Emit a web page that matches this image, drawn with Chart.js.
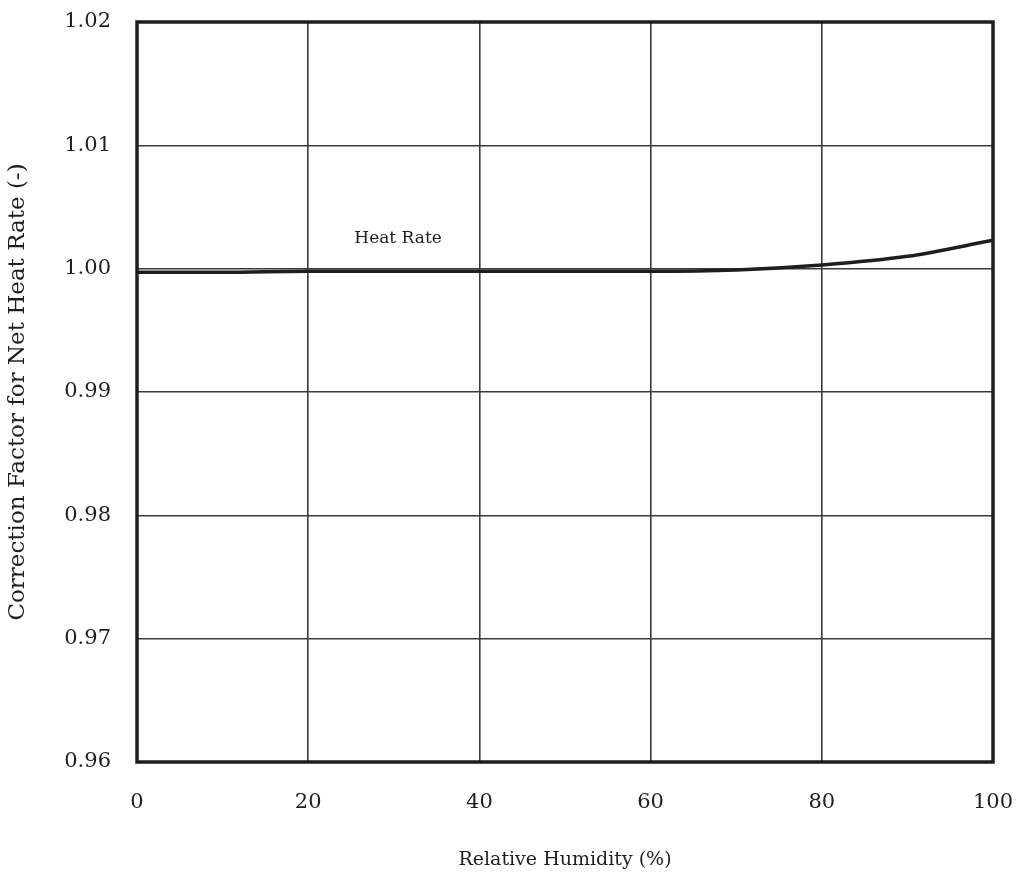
<!DOCTYPE html>
<html>
<head>
<meta charset="utf-8">
<script src="https://cdn.jsdelivr.net/npm/chart.js@4.4.0/dist/chart.umd.min.js"></script>
<style>
  html, body { margin: 0; padding: 0; background: #fff; }
  #wrap { width: 1018px; height: 875px; position: relative; }
</style>
</head>
<body>
<div id="wrap"><canvas id="chart"></canvas></div>
<script>
const humidity = [0, 10, 20, 30, 40, 50, 60, 70, 80, 90, 100];
const heatRate = [0.9997, 0.9997, 0.9998, 0.9998, 0.9998, 0.9998, 0.9998, 0.9999, 1.0003, 1.0010, 1.0023];
const xTicks = [0, 20, 40, 60, 80, 100];
const yTicks = [0.96, 0.97, 0.98, 0.99, 1.00, 1.01, 1.02];
const seriesLabel = 'Heat Rate';
const labelAt = { x: 30.5, y: 1.0024 };

const serif = "'DejaVu Serif', 'Liberation Serif', serif";
const ink = '#1e1e1e';

// text label sitting above the curve, placed through the scales
const curveLabel = {
  id: 'curveLabel',
  afterDatasetsDraw(chart) {
    const { ctx, scales } = chart;
    ctx.save();
    ctx.font = `17px ${serif}`;
    ctx.fillStyle = ink;
    ctx.textAlign = 'center';
    ctx.textBaseline = 'middle';
    ctx.fillText(seriesLabel, scales.x.getPixelForValue(labelAt.x), scales.y.getPixelForValue(labelAt.y));
    ctx.restore();
  },
};

// heavy frame round the plot area
const frame = {
  id: 'frame',
  afterDraw(chart) {
    const { ctx, chartArea: a } = chart;
    ctx.save();
    ctx.strokeStyle = ink;
    ctx.lineWidth = 3.5;
    ctx.strokeRect(a.left, a.top, a.right - a.left, a.bottom - a.top);
    ctx.restore();
  },
};

new Chart(document.getElementById('chart'), {
  type: 'line',
  data: {
    datasets: [{
      label: seriesLabel,
      data: humidity.map((h, i) => ({ x: h, y: heatRate[i] })),
      borderColor: ink,
      borderWidth: 3.5,
      pointRadius: 0,
      tension: 0.4,
      cubicInterpolationMode: 'monotone',
      fill: false,
    }],
  },
  options: {
    responsive: true,
    maintainAspectRatio: false,
    animation: false,
    layout: { padding: { top: 22, right: 25, left: 0, bottom: 0 } },
    plugins: { legend: { display: false }, tooltip: { enabled: false } },
    scales: {
      x: {
        type: 'linear',
        min: 0,
        max: 100,
        afterBuildTicks: (s) => { s.ticks = xTicks.map((v) => ({ value: v })); },
        afterFit: (s) => {
          s.height = 113;
          s.paddingLeft = 0;
          s.paddingRight = 0;
        },
        grid: { color: '#3a3a3a', lineWidth: 1.6, drawTicks: false },
        border: { display: false },
        ticks: { color: ink, padding: 28, font: { family: serif, size: 21 } },
        title: {
          display: true,
          text: 'Relative Humidity (%)',
          color: ink,
          font: { family: serif, size: 19 },
          padding: { top: 24 },
        },
      },
      y: {
        type: 'linear',
        min: 0.96,
        max: 1.02,
        afterBuildTicks: (s) => { s.ticks = yTicks.map((v) => ({ value: v })); },
        afterFit: (s) => {
          s.width = 137;
          s.paddingTop = 0;
          s.paddingBottom = 0;
        },
        grid: { color: '#3a3a3a', lineWidth: 1.6, drawTicks: false },
        border: { display: false },
        ticks: {
          color: ink,
          padding: 26,
          font: { family: serif, size: 21 },
          callback: (v) => v.toFixed(2),
        },
        title: {
          display: true,
          text: 'Correction Factor for Net Heat Rate (-)',
          color: ink,
          font: { family: serif, size: 23 },
          padding: { bottom: 0 },
        },
      },
    },
  },
  plugins: [curveLabel, frame],
});
</script>
</body>
</html>
